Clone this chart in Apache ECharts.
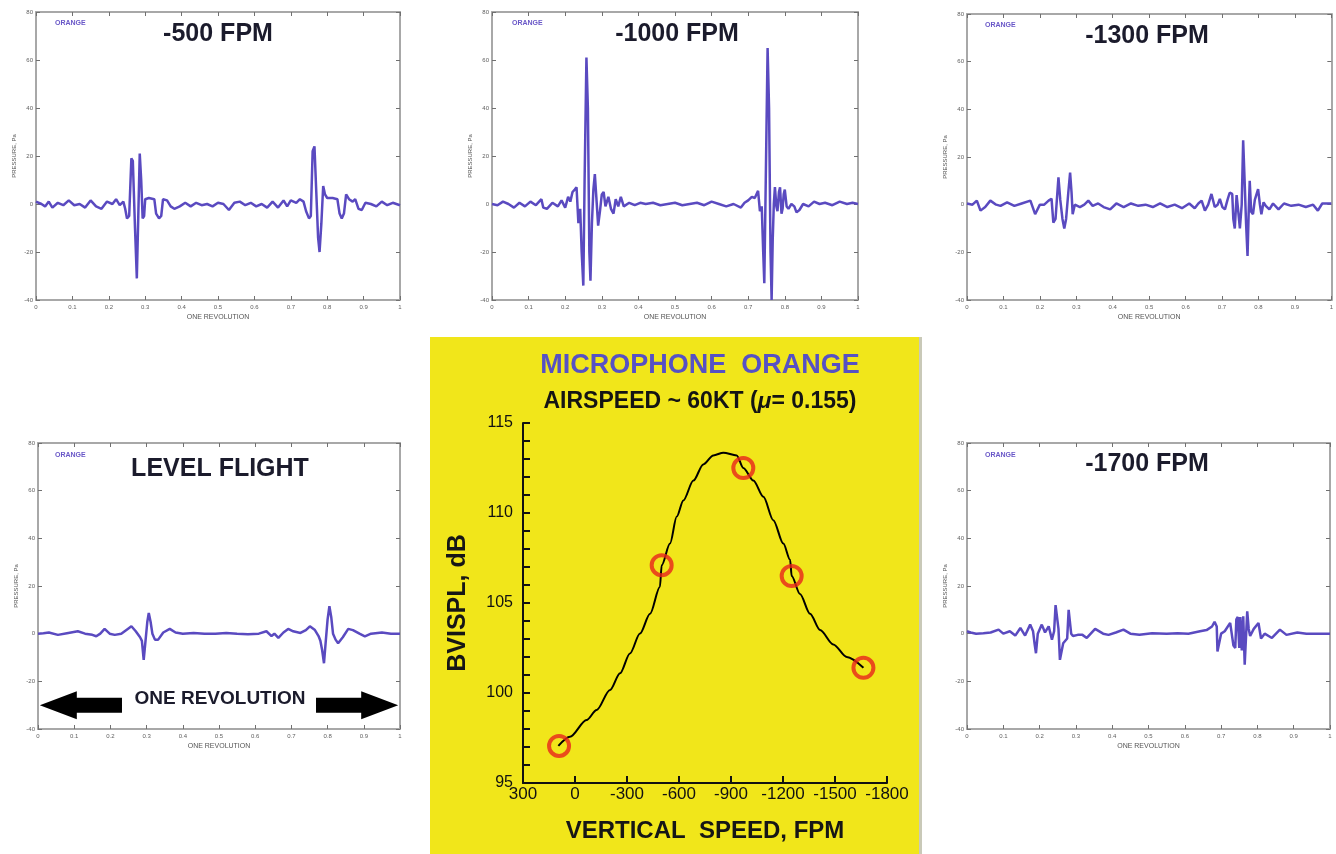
<!DOCTYPE html>
<html><head><meta charset="utf-8">
<script src="https://cdn.jsdelivr.net/npm/echarts@6/dist/echarts.min.js"></script>
<style>html,body{margin:0;padding:0;background:#fff}#c{width:1336px;height:854px}</style>
</head><body><div id="c"></div>
<script>
// ---- waveform data: [revolution fraction, pressure Pa] ----
const wave500 = [[0,1],[0.015,0],[0.025,-1],[0.035,1],[0.045,-1.5],[0.06,0.5],[0.075,-0.5],[0.09,1.5],[0.105,-0.5],[0.12,0],[0.135,-1.5],[0.15,1.5],[0.165,-1],[0.18,-2],[0.195,1],[0.21,0],[0.22,2],[0.23,-0.5],[0.24,1],[0.245,-2],[0.25,-6],[0.256,-5],[0.262,19],[0.266,18],[0.272,-10],[0.277,-31],[0.281,-5],[0.285,21],[0.289,10],[0.293,-6],[0.297,-5],[0.3,2],[0.31,2.5],[0.325,2],[0.33,-4],[0.338,-6],[0.344,-5],[0.349,2],[0.36,1.5],[0.37,-1],[0.38,-2],[0.395,-1],[0.41,0.5],[0.425,-1],[0.44,0.5],[0.455,-0.5],[0.47,0],[0.485,-1],[0.5,0.5],[0.515,0],[0.53,-2.5],[0.545,0.5],[0.56,1],[0.575,-0.5],[0.59,0.5],[0.605,-1],[0.62,0],[0.635,-1.5],[0.65,1],[0.665,-1.5],[0.68,1.5],[0.69,-1],[0.7,1.5],[0.715,0.5],[0.725,2],[0.735,1],[0.742,-3],[0.75,-6],[0.755,-5],[0.76,22],[0.765,24],[0.77,5],[0.775,-14],[0.779,-20],[0.784,-8],[0.789,7.5],[0.794,4],[0.8,2.5],[0.815,2.5],[0.828,2],[0.834,-4],[0.84,-6],[0.846,-4],[0.852,4],[0.86,2],[0.87,1],[0.877,2],[0.886,-2],[0.895,-2.5],[0.905,0.5],[0.92,0],[0.935,-1],[0.95,1],[0.965,-0.5],[0.98,0.5],[0.99,0],[1,-0.5]];
const wave1000 = [[0,0],[0.015,-0.5],[0.03,1],[0.045,0],[0.06,-1.5],[0.075,0.5],[0.09,-1],[0.105,1],[0.12,-0.5],[0.135,2],[0.14,-1.5],[0.15,-2],[0.165,0.5],[0.18,-1],[0.19,1.5],[0.2,-1.5],[0.208,3],[0.214,1],[0.22,5],[0.226,6],[0.231,7],[0.236,-8],[0.241,-2],[0.245,-20],[0.2495,-34],[0.253,10],[0.258,61],[0.262,40],[0.266,-20],[0.269,-32],[0.273,-8],[0.277,6],[0.281,12.5],[0.285,3],[0.29,-9],[0.295,-3],[0.3,4],[0.305,5],[0.31,-1],[0.318,3],[0.325,-2],[0.332,-4],[0.338,2],[0.345,-1],[0.352,3],[0.36,-1],[0.375,0.5],[0.39,-0.5],[0.405,0.5],[0.42,0],[0.44,0.5],[0.46,-0.5],[0.48,0],[0.5,0.5],[0.52,-0.5],[0.54,0],[0.56,0.5],[0.58,-0.5],[0.6,1],[0.62,0],[0.64,-1],[0.66,0],[0.68,-1.5],[0.69,0.5],[0.7,1.5],[0.71,3],[0.718,2.5],[0.727,5.5],[0.732,-3],[0.737,-1],[0.741,-20],[0.744,-33],[0.748,10],[0.753,65],[0.757,40],[0.761,-20],[0.764,-40],[0.767,-15],[0.77,0],[0.773,7],[0.777,-1],[0.78,-3],[0.784,5],[0.787,7],[0.791,-4],[0.794,-2],[0.797,4],[0.8,6],[0.805,-1],[0.81,-2],[0.818,0],[0.826,-1],[0.832,-3.5],[0.84,-2.5],[0.85,0],[0.865,-1],[0.88,1],[0.895,0],[0.91,0.5],[0.93,-0.5],[0.95,1],[0.97,0],[0.985,0.5],[1,0]];
const wave1300 = [[0,0.5],[0.015,0],[0.027,1.7],[0.037,-2.5],[0.05,-1],[0.064,1.7],[0.08,0],[0.092,-0.5],[0.11,1],[0.13,-0.5],[0.15,0.5],[0.174,1.7],[0.187,-4],[0.2,0],[0.212,0],[0.224,1.7],[0.232,2.5],[0.237,-7.5],[0.243,-6],[0.248,5],[0.251,11.5],[0.256,2],[0.262,-6],[0.267,-10],[0.272,-6],[0.278,5],[0.283,13.5],[0.287,5],[0.29,-4],[0.296,0],[0.31,-1],[0.322,0],[0.333,1.7],[0.345,-0.5],[0.36,0.5],[0.375,-1],[0.393,-2],[0.41,0.5],[0.43,-1],[0.45,0.5],[0.47,-0.5],[0.49,0],[0.51,-1],[0.53,0.5],[0.55,-1],[0.57,0],[0.59,-1.5],[0.61,0.5],[0.625,-1.5],[0.635,0.5],[0.644,1.7],[0.653,-2.5],[0.662,0],[0.671,4.5],[0.68,-1],[0.688,0],[0.694,2.4],[0.701,-1],[0.708,-2],[0.715,2],[0.721,5],[0.728,4.5],[0.731,-6],[0.735,-10],[0.74,4],[0.744,-2],[0.749,-10],[0.754,0],[0.758,27],[0.762,10],[0.766,-8],[0.77,-21.5],[0.773,-4],[0.776,10],[0.78,-3],[0.785,-4],[0.79,2],[0.799,6.5],[0.804,0],[0.808,-4],[0.814,1],[0.82,-0.5],[0.83,-2],[0.84,0.5],[0.855,-2],[0.87,0.5],[0.89,-0.5],[0.91,0],[0.93,-1],[0.95,0],[0.963,-2.5],[0.975,0.5],[0.99,0.5],[1,0.5]];
const waveLevel = [[0,0],[0.015,0.2],[0.03,0.5],[0.055,-0.5],[0.08,0.2],[0.11,1],[0.13,0],[0.15,-0.5],[0.161,-1.1],[0.172,0],[0.184,2],[0.198,0],[0.212,-0.5],[0.23,0],[0.248,2],[0.258,3.1],[0.27,1],[0.282,-1.5],[0.287,-3],[0.292,-11],[0.297,-3],[0.302,5],[0.306,8.7],[0.311,5],[0.316,0],[0.323,-2.5],[0.332,-2.5],[0.346,0.5],[0.364,2],[0.38,0.5],[0.4,0],[0.43,0.3],[0.46,0],[0.49,0],[0.52,0.3],[0.55,0],[0.58,-0.2],[0.61,0],[0.631,1],[0.645,-1],[0.653,0],[0.664,-1.8],[0.678,0.5],[0.691,2],[0.705,1],[0.725,0.3],[0.74,1.5],[0.751,3.1],[0.765,1.5],[0.775,-1],[0.78,-3],[0.785,-7],[0.79,-12.4],[0.795,-3],[0.8,6],[0.805,11.5],[0.81,7],[0.815,0],[0.822,-2.5],[0.829,-4],[0.842,-1.5],[0.857,2],[0.87,1.5],[0.888,0],[0.903,-1.1],[0.92,0],[0.95,0.5],[0.975,0],[1,0]];
const wave1700 = [[0,1],[0.01,0.5],[0.025,0],[0.045,0.2],[0.065,0.5],[0.087,1.7],[0.1,0],[0.118,1],[0.133,-0.8],[0.147,2.4],[0.16,-0.8],[0.174,3.8],[0.182,1],[0.186,-4],[0.19,-8.2],[0.195,0],[0.206,3.8],[0.215,0.5],[0.225,3.1],[0.234,-2.5],[0.24,1],[0.244,12],[0.248,12],[0.252,2],[0.256,-11],[0.26,-11],[0.265,-4],[0.27,-4.5],[0.276,-2],[0.28,10],[0.283,10],[0.287,0],[0.292,-1],[0.305,-0.5],[0.318,-0.5],[0.33,-1.8],[0.353,2],[0.375,0],[0.39,-0.5],[0.41,0.5],[0.431,1.7],[0.45,0],[0.475,-0.5],[0.51,0.2],[0.55,0],[0.58,0.2],[0.61,0],[0.642,1],[0.66,1.5],[0.675,3],[0.682,5],[0.688,3],[0.69,-7.5],[0.695,-7],[0.7,0],[0.71,1],[0.725,4.5],[0.73,4],[0.734,-5],[0.739,-6],[0.742,6],[0.746,7],[0.75,-6],[0.753,7],[0.757,-7],[0.761,7.3],[0.765,-13],[0.768,-13],[0.772,9.4],[0.776,2],[0.78,-1],[0.79,2],[0.803,4.5],[0.81,-2],[0.82,0],[0.84,-1.8],[0.862,1.7],[0.88,-0.5],[0.91,0.5],[0.935,0],[0.97,0],[1,0]];

// ---- centre chart: vertical speed (FPM) vs BVISPL (dB) ----
const curveFpm = [96,29,-67,-125,-202,-260,-317,-375,-433,-490,-500,-548,-587,-625,-683,-740,-798,-856,-933,-971,-1029,-1087,-1144,-1202,-1241,-1250,-1298,-1356,-1414,-1490,-1568,-1664];
const curveDb  = [97.06,97.57,98.5,99.06,100.17,101.1,102.2,103.3,104.4,105.9,107.1,108.3,109.8,110.7,111.8,112.7,113.2,113.35,113.2,112.5,111.8,110.9,109.6,108.3,107.4,106.5,105.5,104.4,103.5,102.7,102.0,101.4];
const pointFpm = [92,-500,-971,-1250,-1664];
const pointDb  = [97.06,107.1,112.5,106.5,101.4];

const panelTitles = ['-500 FPM','-1000 FPM','-1300 FPM','LEVEL FLIGHT','-1700 FPM'];
const panelWaves = [wave500, wave1000, wave1300, waveLevel, wave1700];
const micLabel = 'ORANGE';
const arrowText = 'ONE REVOLUTION';
const arrowLeft = [0.232, 0.005];   // shaft start, tip (revolution fraction)
const arrowRight = [0.768, 0.995];
const arrowY = -30;

// ---- layout ----
const grids = [
  {left:36,top:12,width:364,height:288},
  {left:492,top:12,width:366,height:288},
  {left:967,top:14,width:365,height:286},
  {left:38,top:443,width:362,height:286},
  {left:967,top:443,width:363,height:286},
  {left:523,top:423,width:364,height:360}
];
const titlePos = [[218,34],[677,34],[1147,36],[220,469],[1147,464]];
const micPos = [[55,23],[512,23],[985,25],[55,455],[985,455]];

const FONT = '"Liberation Sans", Arial, sans-serif';
const WAVE = '#5a4ac0';
const plain = v => String(v);
const xAxes = [], yAxes = [], series = [];
panelWaves.forEach((w, i) => {
  const line = {show:true,onZero:false,lineStyle:{color:'#a8a8a8',width:2}};
  const tick = {show:true,inside:true,length:4,lineStyle:{color:'#707070',width:1}};
  xAxes.push({gridIndex:i,type:'value',min:0,max:1,interval:0.1,position:'bottom',axisLine:line,axisTick:tick,
    splitLine:{show:false},axisLabel:{fontSize:6,color:'#606060',margin:4,fontFamily:FONT,formatter:plain},
    name:'ONE REVOLUTION',nameLocation:'middle',nameGap:14,nameTextStyle:{fontSize:7,color:'#555',fontFamily:FONT}});
  xAxes.push({gridIndex:i,type:'value',min:0,max:1,interval:0.1,position:'top',axisLine:line,axisTick:tick,
    splitLine:{show:false},axisLabel:{show:false}});
  yAxes.push({gridIndex:i,type:'value',min:-40,max:80,interval:20,position:'left',axisLine:line,axisTick:tick,
    splitLine:{show:false},axisLabel:{fontSize:6,color:'#606060',margin:3,fontFamily:FONT,formatter:plain},
    name:'PRESSURE, Pa',nameLocation:'middle',nameGap:19,nameTextStyle:{fontSize:6,color:'#555',fontFamily:FONT}});
  yAxes.push({gridIndex:i,type:'value',min:-40,max:80,interval:20,position:'right',axisLine:line,axisTick:tick,
    splitLine:{show:false},axisLabel:{show:false}});
  series.push({type:'line',xAxisIndex:2*i,yAxisIndex:2*i,data:w,showSymbol:false,symbol:'none',
    lineStyle:{color:WAVE,width:2.5},z:3});
});
xAxes.push({gridIndex:5,type:'value',min:-1800,max:300,interval:300,inverse:true,
  axisLine:{show:true,onZero:false,lineStyle:{color:'#111',width:2}},
  axisTick:{show:true,inside:true,length:7,lineStyle:{color:'#111',width:2}},
  splitLine:{show:false},axisLabel:{fontSize:17,color:'#111',margin:3,fontFamily:FONT,formatter:plain},
  name:'VERTICAL  SPEED, FPM',nameLocation:'middle',nameGap:36,
  nameTextStyle:{fontSize:24,fontWeight:'bold',color:'#161616',fontFamily:FONT}});
yAxes.push({gridIndex:5,type:'value',min:95,max:115,interval:5,
  axisLine:{show:true,onZero:false,lineStyle:{color:'#111',width:2}},
  axisTick:{show:true,inside:true,length:7,lineStyle:{color:'#111',width:2}},
  minorTick:{show:true,splitNumber:5,length:7,lineStyle:{color:'#111',width:2}},
  splitLine:{show:false},minorSplitLine:{show:false},
  axisLabel:{fontSize:16,color:'#111',margin:10,fontFamily:FONT,formatter:plain},
  name:'BVISPL, dB',nameLocation:'middle',nameGap:52,
  nameTextStyle:{fontSize:25,fontWeight:'bold',color:'#161616',fontFamily:FONT}});
series.push({type:'line',xAxisIndex:10,yAxisIndex:10,data:curveFpm.map((v,i)=>[v,curveDb[i]]),
  smooth:0.3,smoothMonotone:'x',showSymbol:false,symbol:'none',lineStyle:{color:'#000',width:2},z:3});
series.push({type:'scatter',xAxisIndex:10,yAxisIndex:10,data:pointFpm.map((v,i)=>[v,pointDb[i]]),
  symbol:'circle',symbolSize:20,itemStyle:{color:'rgba(0,0,0,0)',borderColor:'#e8241c',borderWidth:4},z:4});

const chart = echarts.init(document.getElementById('c'), null, {renderer:'canvas'});
chart.setOption({animation:false,backgroundColor:'#fff',grid:grids,xAxis:xAxes,yAxis:yAxes,series:series});

const g = [];
g.push({type:'rect',z:-10,shape:{x:430,y:337,width:490,height:517},style:{fill:'#f1e61a'}});
g.push({type:'rect',z:-9,shape:{x:919,y:337,width:3,height:517},style:{fill:'#c9c9b8'}});
panelTitles.forEach((t,i)=>{
  g.push({type:'text',z:10,x:titlePos[i][0],y:titlePos[i][1],style:{text:t,font:'bold 25px '+FONT,fill:'#1b1b2c',align:'center',verticalAlign:'middle'}});
  g.push({type:'text',z:10,x:micPos[i][0],y:micPos[i][1],style:{text:micLabel,font:'bold 7px '+FONT,fill:'#6a58c8',align:'left',verticalAlign:'middle'}});
});
g.push({type:'text',z:10,x:700,y:366,style:{text:'MICROPHONE  ORANGE',font:'bold 27px '+FONT,fill:'#5651c4',align:'center',verticalAlign:'middle'}});
g.push({type:'text',z:10,x:700,y:402,style:{text:'AIRSPEED ~ 60KT ({m|μ}= 0.155)',font:'bold 23px '+FONT,fill:'#141414',align:'center',verticalAlign:'middle',
  rich:{m:{font:'italic bold 23px '+FONT,fill:'#141414'}}}});
// arrows for "ONE REVOLUTION" in level-flight panel
function arrow(x0, xTip){
  const a = chart.convertToPixel({xAxisIndex:6,yAxisIndex:6},[x0,arrowY]);
  const b = chart.convertToPixel({xAxisIndex:6,yAxisIndex:6},[xTip,arrowY]);
  const dir = Math.sign(b[0]-a[0]);
  const headLen = 37, headHalf = 14, shaftHalf = 7.5;
  const hb = b[0] - dir*headLen, cy = a[1];
  return {type:'polygon',z:10,shape:{points:[[a[0],cy-shaftHalf],[hb,cy-shaftHalf],[hb,cy-headHalf],[b[0],cy],[hb,cy+headHalf],[hb,cy+shaftHalf],[a[0],cy+shaftHalf]]},style:{fill:'#000'}};
}
g.push(arrow(arrowLeft[0],arrowLeft[1]));
g.push(arrow(arrowRight[0],arrowRight[1]));
const mid = chart.convertToPixel({xAxisIndex:6,yAxisIndex:6},[0.5,arrowY]);
g.push({type:'text',z:10,x:220,y:mid[1]-6,style:{text:arrowText,font:'bold 19px '+FONT,fill:'#1b1b2c',align:'center',verticalAlign:'middle'}});
chart.setOption({graphic:g});
</script></body></html>
